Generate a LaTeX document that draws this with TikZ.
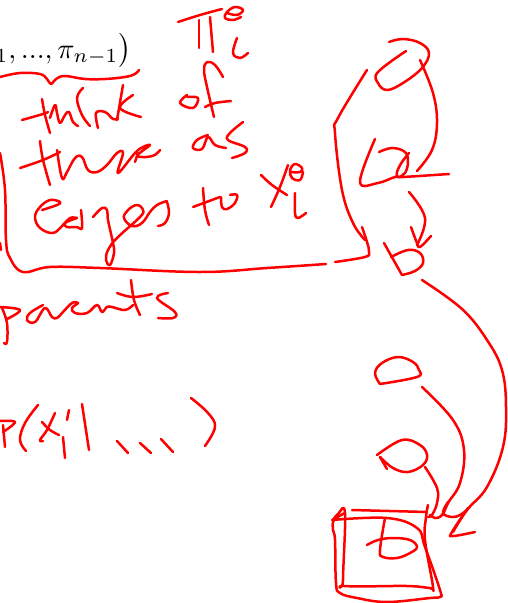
\documentclass[tikz,border=0pt]{standalone}
\usepackage{amsmath}
\tikzset{ink/.style={draw=red,line width=2.5pt,line cap=round,line join=round},
 printed/.style={inner sep=0pt,text=black,scale=2.85,transform shape}}
\newcommand{\sk}[1]{\draw[ink] plot[smooth,tension=0.65] coordinates {#1};}
\begin{document}
\begin{tikzpicture}[x=1pt,y=-1pt]
\useasboundingbox (0,0) rectangle (508,603);
\clip (0,0) rectangle (508,603);
\node[printed,anchor=base east] (formula) at (132,58) {$_1, ..., \pi_{n-1}\bigr)$};
% brace
\sk{(0,77)(20,73)(40,74)(47,79)(51,84)(56,79)(65,76)(85,79)(105,79)(125,77)(135,74)(139,70)}
% pi_i^e
\sk{(178,22)(200,15)(222,9)}
\sk{(199,20)(199,48)}
\sk{(210,17)(213,52)}
\sk{(227,13)(237,15)(243,10)(235,7)(227,12)(225,18)(233,20)(241,17)}
\sk{(237,38)(233,53)(240,58)(248,53)}
% think
\sk{(22,120)(43,114)(48,112)}
\sk{(42,99)(45,115)(50,133)}
\sk{(50,118)(55,105)(57,113)(60,123)(65,115)(69,112)(73,122)(78,126)}
\sk{(83,88)(77,98)(82,115)(90,126)}
\sk{(98,128)(96,113)(105,112)(113,119)(118,119)}
\sk{(123,85)(117,120)}
\sk{(133,95)(120,108)(141,117)}
% of
\sk{(223,77)(215,65)(207,62)(204,70)(207,87)(214,117)}
\sk{(205,107)(215,103)(231,101)}
\sk{(187,95)(180,103)(193,108)(198,98)(187,97)}
% there
\sk{(20,168)(43,160)(60,152)}
\sk{(40,141)(43,160)(50,185)}
\sk{(57,150)(62,178)(67,172)(75,158)(82,157)(88,170)(97,172)(107,165)(117,153)(123,153)(118,173)(135,153)(143,147)(150,145)(141,152)(137,156)(146,157)(155,155)(160,150)}
\sk{(135,162)(138,153)}
% as
\sk{(208,135)(197,140)(193,148)(202,149)(208,137)(215,145)(226,148)}
\sk{(243,122)(230,133)(228,140)(245,147)(245,153)(232,158)}
% edges
\sk{(42,210)(57,205)(60,202)(50,200)(40,207)(35,217)(40,228)(53,233)(63,225)(70,218)(77,218)}
\sk{(77,218)(65,223)(67,227)(77,227)(82,228)(81,210)}
\sk{(93,217)(102,208)(107,210)(108,220)(113,243)(114,253)(110,265)(106,260)(108,250)(117,238)(140,217)(143,210)(137,205)(128,210)(124,218)(132,226)(142,223)(150,212)(157,205)(167,201)}
\sk{(167,202)(169,213)(165,223)(158,226)}
% to
\sk{(203,188)(205,210)(209,225)}
\sk{(193,207)(220,197)}
\sk{(221,197)(222,207)(227,209)(235,203)(237,195)(230,195)}
% x_i^e
\sk{(261,175)(272,185)(287,195)}
\sk{(288,165)(280,187)(271,207)}
\sk{(290,172)(300,172)(302,168)(295,164)(290,170)(292,178)(300,180)(303,172)}
\sk{(295,193)(295,213)(298,218)(306,213)}
% box
\sk{(0,153)(5,190)(6,240)(10,258)(23,272)(50,267)(100,268)(200,272)(267,268)(326,264)}
\sk{(0,243)(1,250)}
% parents
\sk{(2,308)(7,323)(7,342)(4,343)}
\sk{(0,307)(20,310)(7,319)}
\sk{(43,305)(30,313)(27,320)(35,322)(45,308)(52,317)(57,318)(63,312)(72,303)(78,303)(72,308)(75,313)(87,313)(97,305)(102,312)(107,307)(112,307)(125,310)(133,305)}
\sk{(117,293)(133,297)(152,294)}
\sk{(131,280)(134,300)(140,315)}
\sk{(168,293)(157,298)(175,312)(173,318)(158,318)}
% p(x_i | ...)
\sk{(0,421)(15,422)(3,432)}
\sk{(3,425)(5,447)}
\sk{(38,405)(25,423)(20,440)(26,451)}
\sk{(42,422)(50,430)(59,435)}
\sk{(55,413)(47,430)(40,440)(43,441)}
\sk{(63,437)(65,458)}
\sk{(69,410)(67,420)}
\sk{(82,404)(89,450)}
\sk{(117,441)(128,453)}
\sk{(140,443)(151,453)}
\sk{(161,439)(173,452)}
\sk{(191,398)(208,413)(215,427)(205,446)}
% top right graph
\sk{(406,51)(378,72)(378,83)(387,90)(403,83)(422,68)(429,53)(420,43)(403,39)(389,42)}
\sk{(420,60)(433,93)(437,123)(432,150)(417,171)}
\sk{(367,70)(338,118)(335,133)(342,190)(353,223)(365,240)}
\sk{(362,227)(367,242)(369,252)(365,257)(335,262)}
\sk{(375,139)(360,182)(378,183)(395,177)(403,177)(449,174)}
\sk{(379,152)(392,148)(405,152)(408,162)(405,173)(398,177)(397,172)(402,162)(409,153)}
\sk{(409,192)(425,218)(417,245)}
\sk{(411,227)(417,243)(420,247)(431,236)}
\sk{(384,243)(402,275)}
\sk{(391,257)(408,250)(420,253)(423,263)(415,271)(402,275)}
% long curve
\sk{(422,280)(462,309)(487,340)(502,370)(506,407)(503,447)(487,487)(467,510)(453,532)}
\sk{(468,508)(452,532)(453,536)(475,532)}
% lower graph
\sk{(380,384)(375,373)(382,363)(398,357)(413,362)(419,370)(417,377)(380,384)}
\sk{(422,387)(453,420)(464,450)(460,483)(448,503)(443,515)}
\sk{(377,455)(402,440)(420,445)(427,455)(423,465)(408,472)(393,468)(380,457)}
\sk{(380,457)(387,469)}
\sk{(425,467)(437,488)(437,503)(432,515)(428,517)}
\sk{(430,515)(435,518)(442,515)(448,502)(443,513)(452,517)(460,515)(468,509)}
\sk{(352,510)(427,512)}
\sk{(428,505)(426,517)(425,540)(433,587)(430,588)(407,586)(345,586)(343,580)(345,513)(338,514)(333,520)}
\sk{(332,520)(387,518)(417,528)(425,547)(440,590)(440,597)(430,598)(387,602)(357,598)(340,593)(336,583)(335,540)(333,530)(334,520)(345,513)}
\sk{(385,518)(380,550)(383,557)(397,558)(410,553)(417,547)(410,540)(393,538)(378,540)(367,545)}
\end{tikzpicture}
\end{document}
